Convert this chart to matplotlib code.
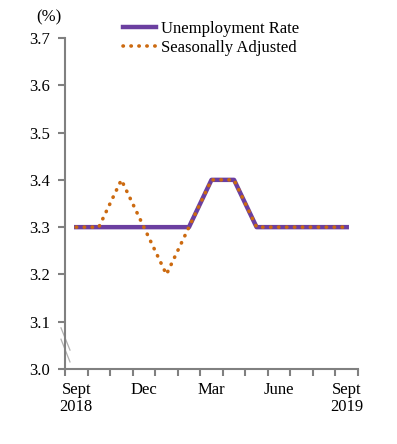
import numpy as np
import matplotlib.pyplot as plt

# monthly data, Sept 2018 .. Sept 2019
months = ['Sep', 'Oct', 'Nov', 'Dec', 'Jan', 'Feb', 'Mar', 'Apr', 'May', 'Jun', 'Jul', 'Aug', 'Sep']
unemployment = [3.3, 3.3, 3.3, 3.3, 3.3, 3.3, 3.4, 3.4, 3.3, 3.3, 3.3, 3.3, 3.3]
seasonally_adj = [3.3, 3.3, 3.4, 3.3, 3.2, 3.3, 3.4, 3.4, 3.3, 3.3, 3.3, 3.3, 3.3]
label_pos = [0, 3, 6, 9, 12]
label_txt = ['Sept\n2018', 'Dec', 'Mar', 'June', 'Sept\n2019']
yticks = [3.0, 3.1, 3.2, 3.3, 3.4, 3.5, 3.6, 3.7]

plt.rcParams['font.family'] = ['Liberation Serif', 'DejaVu Serif']
plt.rcParams['font.size'] = 12

fig = plt.figure(figsize=(3.97, 4.44), dpi=100)
ax = fig.add_axes([65/397, 75/444, 293/397, 331/444])

x = np.arange(len(months))
ax.plot(x, unemployment, color='#6B3FA0', lw=3.2, label='Unemployment Rate', zorder=2)
ax.plot(x, seasonally_adj, color='#CC6A10', lw=2.6, linestyle=(0, (0.1, 2.1)),
        dash_capstyle='round', label='Seasonally Adjusted', zorder=3)

ax.set_xlim(-0.5, len(months) - 0.5)
ax.set_ylim(3.0, 3.7)
ax.set_yticks(yticks)
ax.set_yticklabels(['%.1f' % v for v in yticks])

ax.set_xticks(np.arange(len(months) + 1) - 0.5)
ax.set_xticklabels([])
ax.set_xticks(label_pos, minor=True)
ax.set_xticklabels(label_txt, minor=True, linespacing=1.15)
ax.tick_params(axis='x', which='minor', length=0, pad=9)
ax.tick_params(axis='x', which='major', length=5, width=1.5, color='#808080')
ax.tick_params(axis='y', length=5, width=1.5, color='#808080', pad=6)

for s in ['top', 'right']:
    ax.spines[s].set_visible(False)
for s in ['left', 'bottom']:
    ax.spines[s].set_color('#808080')
    ax.spines[s].set_linewidth(1.5)

# axis break marks
for y0, y1 in [(3.087, 3.040), (3.063, 3.015)]:
    ax.plot([-0.0137, 0.017], [y0, y1], color='#B0B0B0', lw=0.9,
            transform=ax.get_yaxis_transform(), clip_on=False)

fig.text(36/397, 1 - 17/444, '(%)', va='center', ha='left')

ax.legend(loc='upper left', bbox_to_anchor=(123/397, 1 - 21/444),
          bbox_transform=fig.transFigure, frameon=False, borderpad=0,
          borderaxespad=0, handlelength=2.0, handletextpad=0.3,
          labelspacing=0.2)

fig.savefig('out.png', dpi=100)
